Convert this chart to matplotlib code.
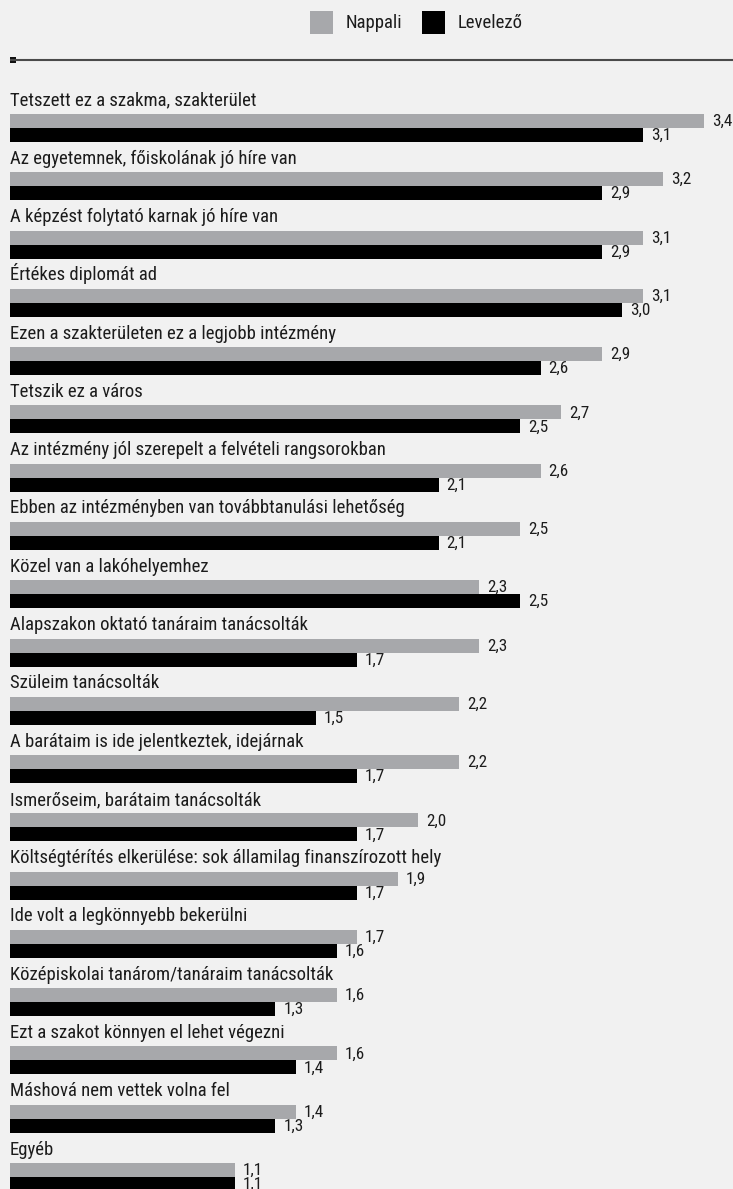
import matplotlib
matplotlib.use("Agg")
import matplotlib.pyplot as plt
from matplotlib import font_manager
from matplotlib.font_manager import FontProperties
from matplotlib.patches import Rectangle

# Survey data: mean importance of choice reasons, full-time vs. correspondence students
categories = [
    "Tetszett ez a szakma, szakterület",
    "Az egyetemnek, főiskolának jó híre van",
    "A képzést folytató karnak jó híre van",
    "Értékes diplomát ad",
    "Ezen a szakterületen ez a legjobb intézmény",
    "Tetszik ez a város",
    "Az intézmény jól szerepelt a felvételi rangsorokban",
    "Ebben az intézményben van továbbtanulási lehetőség",
    "Közel van a lakóhelyemhez",
    "Alapszakon oktató tanáraim tanácsolták",
    "Szüleim tanácsolták",
    "A barátaim is ide jelentkeztek, idejárnak",
    "Ismerőseim, barátaim tanácsolták",
    "Költségtérítés elkerülése: sok államilag finanszírozott hely",
    "Ide volt a legkönnyebb bekerülni",
    "Középiskolai tanárom/tanáraim tanácsolták",
    "Ezt a szakot könnyen el lehet végezni",
    "Máshová nem vettek volna fel",
    "Egyéb",
]
nappali = [3.4, 3.2, 3.1, 3.1, 2.9, 2.7, 2.6, 2.5, 2.3, 2.3,
           2.2, 2.2, 2.0, 1.9, 1.7, 1.6, 1.6, 1.4, 1.1]
levelezo = [3.1, 2.9, 2.9, 3.0, 2.6, 2.5, 2.1, 2.1, 2.5, 1.7,
            1.5, 1.7, 1.7, 1.7, 1.6, 1.3, 1.4, 1.3, 1.1]
series_names = ["Nappali", "Levelező"]

BG = "#f1f1f1"
GRAY = "#a7a8ab"
BLACK = "#000000"
TEXT = "#1c1c1c"


def pick_narrow_font():
    """Return FontProperties for a regular-weight condensed sans face if any."""
    preferred = ["Liberation Sans Narrow", "Roboto Condensed", "Open Sans Condensed",
                 "Noto Sans", "Roboto", "Open Sans", "Inter", "Lato",
                 "Liberation Sans", "DejaVu Sans"]
    entries = font_manager.fontManager.ttflist
    for fam in preferred:
        for e in entries:
            if (e.name == fam and e.style == "normal"
                    and str(e.weight) in ("400", "normal", "regular", "book")
                    and e.stretch in ("condensed", "semi-condensed",
                                      "extra-condensed", "ultra-condensed")):
                return FontProperties(fname=e.fname)
    return FontProperties(family="DejaVu Sans", stretch="condensed")


FP = pick_narrow_font()


def font(size):
    fp = FP.copy()
    fp.set_size(size)
    return fp


W, H, DPI = 733, 1189, 100
fig = plt.figure(figsize=(W / DPI, H / DPI), dpi=DPI, facecolor=BG)
ax = fig.add_axes([0, 0, 1, 1])
ax.set_facecolor(BG)

# horizontal scale: value units, vertical: pixel rows from the top
px_per_unit = 204.1
left_px = 10
ax.set_xlim(-left_px / px_per_unit, (W - left_px) / px_per_unit)
ax.set_ylim(H, 0)
ax.axis("off")

step = 58.28
first_label = 105.5
first_bar = 121.0
bar_h = 14.0
pad = 8 / px_per_unit
cat_size = 13.5
val_size = 12.3


def fmt(v):
    return f"{v:.1f}".replace(".", ",")


for i, (cat, a, b) in enumerate(zip(categories, nappali, levelezo)):
    y_lab = first_label + i * step
    y_a = first_bar + i * step
    y_b = y_a + bar_h
    ax.text(0, y_lab, cat, ha="left", va="baseline", color=TEXT,
            fontproperties=font(cat_size))
    ax.barh(y_a, a, height=bar_h, left=0, color=GRAY, linewidth=0)
    ax.barh(y_b, b, height=bar_h, left=0, color=BLACK, linewidth=0)
    ax.text(a + pad, y_a + 0.5, fmt(a), ha="left", va="center", color=TEXT,
            fontproperties=font(val_size))
    ax.text(b + pad, y_b + 0.5, fmt(b), ha="left", va="center", color=TEXT,
            fontproperties=font(val_size))

# rule under the legend with a small square at its start
ax.plot([0, (W - left_px) / px_per_unit], [60, 60],
        color="#4a4a4a", lw=1.5, solid_capstyle="butt")
ax.add_patch(Rectangle((0, 57), 6 / px_per_unit, 6, color="#111111", lw=0))


# legend
def fx(px):
    return px / W


def fy(py):
    return 1 - py / H


legend_items = [(series_names[0], GRAY, 310, 346), (series_names[1], BLACK, 422, 458)]
for name, col, sx, tx in legend_items:
    fig.patches.append(Rectangle((fx(sx), fy(34)), 23 / W, 23 / H,
                                 transform=fig.transFigure, color=col, lw=0))
    fig.text(fx(tx), fy(23), name, ha="left", va="center", color=TEXT,
             fontproperties=font(cat_size))

fig.savefig("out.png", dpi=DPI, facecolor=BG)
